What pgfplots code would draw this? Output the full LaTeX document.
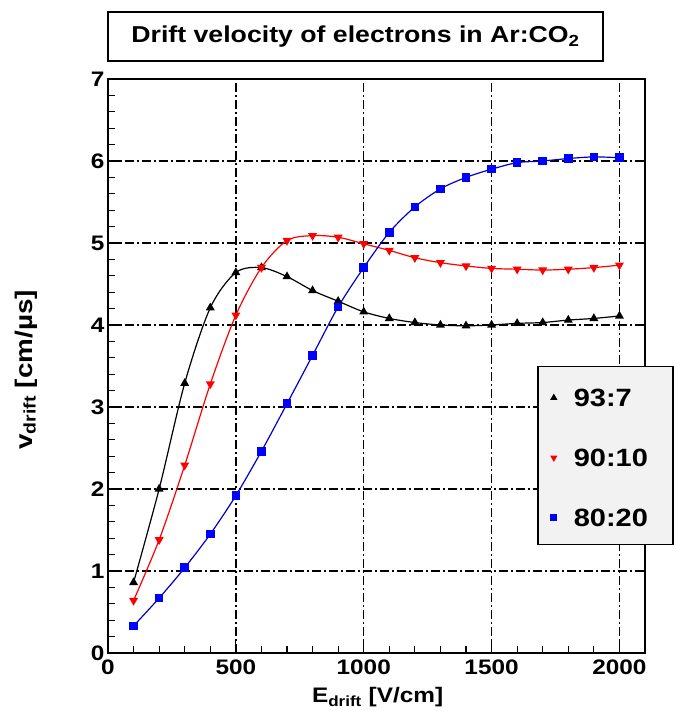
\documentclass[border=0pt]{standalone}
\usepackage{fontspec}
\setmainfont{Liberation Sans}[FakeStretch=1.16]
\usepackage{pgfplots}
\usepackage{pgfplotstable}
\pgfplotsset{compat=1.18}

\pgfplotstableread{
x y
100 0.86
200 2.00
300 3.29
400 4.21
500 4.64
600 4.70
700 4.59
800 4.42
900 4.29
1000 4.16
1100 4.08
1200 4.03
1300 4.00
1400 3.99
1500 4.00
1600 4.02
1700 4.03
1800 4.06
1900 4.08
2000 4.11
}\tblA

\pgfplotstableread{
x y
100 0.64
200 1.38
300 2.29
400 3.28
500 4.12
600 4.70
700 5.03
800 5.09
900 5.07
1000 4.99
1100 4.91
1200 4.82
1300 4.76
1400 4.72
1500 4.69
1600 4.68
1700 4.67
1800 4.68
1900 4.70
2000 4.73
}\tblB

\pgfplotstableread{
x y
100 0.33
200 0.67
300 1.04
400 1.45
500 1.92
600 2.46
700 3.04
800 3.63
900 4.22
1000 4.70
1100 5.13
1200 5.44
1300 5.66
1400 5.80
1500 5.90
1600 5.98
1700 6.00
1800 6.03
1900 6.05
2000 6.04
}\tblC

\begin{document}
\begin{tikzpicture}
\begin{axis}[
  at={(108pt,58pt)}, anchor=south west,
  width=537pt, height=574pt, scale only axis,
  xmin=0, xmax=2100, ymin=0, ymax=7,
  xtick={0,500,1000,1500,2000}, ytick={0,1,2,3,4,5,6,7},
  minor x tick num=4, minor y tick num=4,
  tick align=inside, tick pos=left,
  major tick length=14pt, minor tick length=7pt,
  every tick/.style={black, line width=1.2pt},
  axis line style={line width=1.5pt},
  grid=major,
  major grid style={black, line width=1.3pt, dash pattern=on 9pt off 3pt on 2pt off 3pt},
  /pgf/number format/assume math mode=true,
  /pgf/number format/1000 sep={},
  tick label style={font=\fontsize{21}{25}\selectfont\bfseries},
  xticklabel style={yshift=-3pt},
  xlabel={E\textsubscript{drift} [V/cm]},
  ylabel={v\textsubscript{drift} [cm/µs]},
  every axis x label/.style={at={(axis description cs:0.502,-0.087)}, anchor=base, font=\fontsize{21}{25}\selectfont\bfseries},
  every axis y label/.style={at={(axis description cs:-0.1415,0.493)}, rotate=90, anchor=base, font=\fontsize{24}{28}\selectfont\bfseries},
  legend cell align=left,
  legend image code/.code={\path[draw=none,fill=none] (0pt,-1pt) rectangle (36pt,1pt); \draw[#1] plot[only marks, mark size=3pt] coordinates {(16pt,-2pt)};},
  legend style={at={(axis description cs:0.799,0.5)}, anchor=north west,
    draw=black, line width=1.5pt, fill=black!5,
    inner xsep=0pt, inner ysep=10pt, row sep=22pt,
    nodes={inner sep=0pt, text height=30pt, text depth=8pt, anchor=west},
    font=\fontsize{25}{30}\selectfont\bfseries},
]
\addplot[black, line width=1.2pt, smooth, mark=triangle*, mark size=4pt, mark options={solid, fill=black}] table {\tblA};
\addlegendentry{\makebox[99pt][l]{93:7}}
\addplot[red, line width=1.2pt, smooth, mark=triangle*, mark size=4pt, mark options={solid, fill=red, rotate=180}] table {\tblB};
\addlegendentry{\makebox[99pt][l]{90:10}}
\addplot[blue!80!black, line width=1.2pt, smooth, mark=square*, mark size=3.7pt, mark options={solid, fill=blue, draw=blue}] table {\tblC};
\addlegendentry{\makebox[99pt][l]{80:20}}
\end{axis}
\node[draw, line width=1.5pt, fill=white, minimum width=495pt, minimum height=49pt, inner sep=0pt, font=\fontsize{23}{27}\selectfont\bfseries] at (355.5pt,674.5pt) {Drift velocity of electrons in Ar:CO\textsubscript{2}};
\pgfresetboundingbox
\path[use as bounding box] (0pt,0pt) rectangle (675pt,711pt);
\end{tikzpicture}
\end{document}
